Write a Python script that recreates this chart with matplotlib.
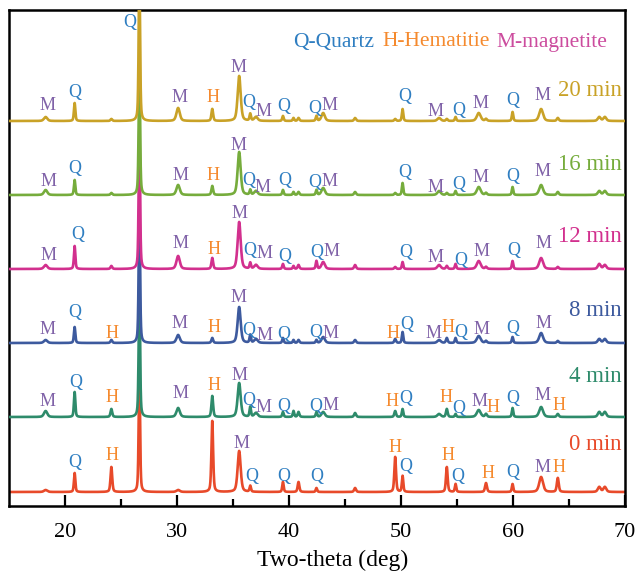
import numpy as np
import matplotlib
matplotlib.use("Agg")
import matplotlib.pyplot as plt

plt.rcParams['font.family'] = ['Liberation Serif', 'DejaVu Serif']

# ---- data -------------------------------------------------------------
samples = ["0 min", "4 min", "8 min", "12 min", "16 min", "20 min"]
trace_colors = ["#E84A2A", "#2E8B6B", "#3D5A9E", "#D2308E", "#76AC3C", "#C9A227"]

# reflections (2-theta, deg) and their widths (FWHM, deg)
peak_two_theta = [18.27, 20.86, 24.14, 26.64, 30.10, 33.15, 35.55, 36.54, 37.05,
                  39.46, 40.40, 40.85, 42.45, 43.05, 45.90, 49.48, 50.14, 53.40,
                  54.09, 54.87, 56.94, 57.59, 59.96, 62.51, 64.00, 67.70, 68.20]
peak_fwhm = [0.35, 0.15, 0.18, 0.15, 0.35, 0.18, 0.32, 0.15, 0.35,
             0.15, 0.15, 0.18, 0.15, 0.35, 0.20, 0.18, 0.15, 0.35,
             0.18, 0.15, 0.40, 0.20, 0.15, 0.40, 0.20, 0.30, 0.30]

# peak intensities (a.u.) for each roasting time
intensity_0min = [2, 19, 25, 120, 2, 71, 41, 6, 0, 10, 0, 10, 4, 0, 4, 35, 16, 0,
                  25, 8, 0, 9, 8, 15, 14, 5, 5]
intensity_4min = [6, 25, 8, 130, 9, 21, 34, 10, 4, 5, 6, 5, 5, 5, 4, 6, 8, 3,
                  8, 3, 7, 3, 9, 10, 3, 5, 5]
intensity_8min = [3, 16, 3, 135, 8, 5, 36, 8, 4, 5, 3, 3, 3, 6, 3, 4, 11, 3,
                  5, 5, 7, 2, 6, 10, 2, 4, 4]
intensity_12min = [4, 23, 3, 140, 13, 11, 47, 6, 4, 5, 3, 4, 8, 7, 4, 2, 7, 4,
                   3, 5, 8, 2, 8, 11, 2, 5, 4]
intensity_16min = [5, 15, 2, 130, 10, 9, 43, 5, 4, 5, 3, 3, 5, 7, 3, 2, 12, 4,
                   2, 4, 8, 2, 8, 10, 3, 4, 4]
intensity_20min = [4, 18, 2, 150, 13, 12, 45, 7, 4, 5, 3, 3, 5, 8, 3, 2, 12, 3,
                   2, 4, 8, 2, 9, 12, 3, 4, 4]
intensities = [intensity_0min, intensity_4min, intensity_8min,
               intensity_12min, intensity_16min, intensity_20min]

# phase labels: (phase, 2-theta, height above the trace baseline)
labels_0min = [("Q", 20.9, 29), ("H", 24.2, 37), ("M", 35.8, 49), ("Q", 36.7, 15),
               ("Q", 39.55, 15), ("Q", 42.5, 15), ("H", 49.5, 45), ("Q", 50.4, 25),
               ("H", 54.2, 37), ("Q", 55.1, 15), ("H", 57.8, 19), ("Q", 60.0, 19),
               ("M", 62.6, 25), ("H", 64.1, 24)]
labels_4min = [("M", 18.4, 16), ("Q", 21.0, 35), ("H", 24.2, 19), ("M", 30.3, 23),
               ("H", 33.3, 31), ("M", 35.6, 42), ("Q", 36.4, 17), ("M", 37.7, 9),
               ("Q", 39.55, 11), ("Q", 42.4, 10), ("M", 43.7, 12), ("H", 49.2, 15),
               ("Q", 50.45, 18), ("H", 54.0, 19), ("Q", 55.2, 9), ("M", 57.0, 15),
               ("H", 58.2, 9), ("Q", 60.0, 18), ("M", 62.6, 22), ("H", 64.1, 11)]
labels_8min = [("M", 18.4, 14), ("Q", 20.9, 31), ("H", 24.2, 10), ("M", 30.2, 20),
               ("H", 33.3, 16), ("M", 35.5, 45), ("Q", 36.4, 12), ("M", 37.8, 8),
               ("Q", 39.55, 8), ("Q", 42.4, 10), ("M", 43.7, 10), ("H", 49.3, 10),
               ("Q", 50.55, 19), ("M", 52.9, 10), ("H", 54.2, 15), ("Q", 55.3, 10),
               ("M", 57.2, 13), ("Q", 60.0, 15), ("M", 62.7, 20)]
labels_12min = [("M", 18.5, 13), ("Q", 21.1, 34), ("M", 30.3, 25), ("H", 33.3, 20),
                ("M", 35.6, 56), ("Q", 36.5, 18), ("M", 37.8, 15), ("Q", 39.6, 13),
                ("Q", 42.5, 17), ("M", 43.8, 17), ("Q", 50.4, 17), ("M", 53.1, 11),
                ("Q", 55.3, 9), ("M", 57.2, 18), ("Q", 60.1, 19), ("M", 62.7, 25)]
labels_16min = [("M", 18.5, 14), ("Q", 20.9, 27), ("M", 30.3, 19), ("H", 33.2, 20),
                ("M", 35.5, 50), ("Q", 36.4, 15), ("M", 37.6, 8), ("Q", 39.6, 15),
                ("Q", 42.3, 12), ("M", 43.6, 14), ("Q", 50.3, 23), ("M", 53.1, 7),
                ("Q", 55.2, 10), ("M", 57.1, 17), ("Q", 60.0, 19), ("M", 62.6, 23)]
labels_20min = [("M", 18.4, 15), ("Q", 20.9, 28), ("Q", 25.8, 99), ("M", 30.2, 24),
                ("H", 33.2, 23), ("M", 35.5, 54), ("Q", 36.4, 18), ("M", 37.7, 10),
                ("Q", 39.55, 15), ("Q", 42.3, 13), ("M", 43.6, 15), ("Q", 50.3, 24),
                ("M", 53.1, 9), ("Q", 55.2, 11), ("M", 57.1, 18), ("Q", 60.0, 20),
                ("M", 62.6, 26)]
phase_labels = [labels_0min, labels_4min, labels_8min,
                labels_12min, labels_16min, labels_20min]

phase_colors = {"Q": "#2F7EC1", "H": "#F58A2E", "M": "#8062A8"}
legend_items = [("Q-Quartz", "#2F7EC1"), ("H-Hematitie", "#F58A2E"),
                ("M-magnetite", "#CC4C9E")]

# ---- layout -----------------------------------------------------------
W, H = 638, 574
fig = plt.figure(figsize=(W / 100, H / 100), dpi=100)
ax = fig.add_axes([9 / W, (H - 506) / H, 616 / W, 496 / H])

baselines = [14, 89, 163, 237, 311, 385]
name_y = [61, 130, 195, 269, 341, 416]

tt = np.arange(15.0, 70.0001, 0.01)


def pattern(pos, fwhm, amp, eta=0.45):
    y = np.zeros_like(tt)
    for p, w, a in zip(pos, fwhm, amp):
        if a <= 0:
            continue
        d = (tt - p) / (w / 2.0)
        lor = 1.0 / (1.0 + d ** 2)
        gau = np.exp(-np.log(2) * d ** 2)
        y += a * (eta * lor + (1 - eta) * gau)
    return y


for i, (name, col, amp) in enumerate(zip(samples, trace_colors, intensities)):
    y = baselines[i] + pattern(peak_two_theta, peak_fwhm, amp)
    ax.plot(tt, y, color=col, lw=1.9, zorder=2 + i)
    for ph, x, rise in phase_labels[i]:
        ax.text(x, baselines[i] + rise, ph, color=phase_colors[ph], fontsize=13,
                ha="center", va="center", zorder=20)
    ax.text(69.73, name_y[i], name, color=col, fontsize=16.5,
            ha="right", va="center", zorder=20)

legend_x = [40.36, 48.3, 58.5]
for (txt, c), x in zip(legend_items, legend_x):
    ax.text(x, 464, txt, color=c, fontsize=15.5, ha="left", va="center")

ax.set_xlim(15, 70)
ax.set_ylim(0, 496)
ax.set_yticks([])
ax.set_xticks([20, 30, 40, 50, 60, 70])
ax.set_xticks([25, 35, 45, 55, 65], minor=True)
ax.tick_params(axis="x", which="major", direction="in", length=8, width=1.6,
               labelsize=16, pad=12, top=False)
ax.tick_params(axis="x", which="minor", direction="in", length=5, width=1.6,
               top=False)
for s in ax.spines.values():
    s.set_linewidth(1.8)

fig.text(333 / W, 1 - 560 / H, "Two-theta (deg)", fontsize=17,
         ha="center", va="center")

fig.savefig("out.png", dpi=100, facecolor="white")
